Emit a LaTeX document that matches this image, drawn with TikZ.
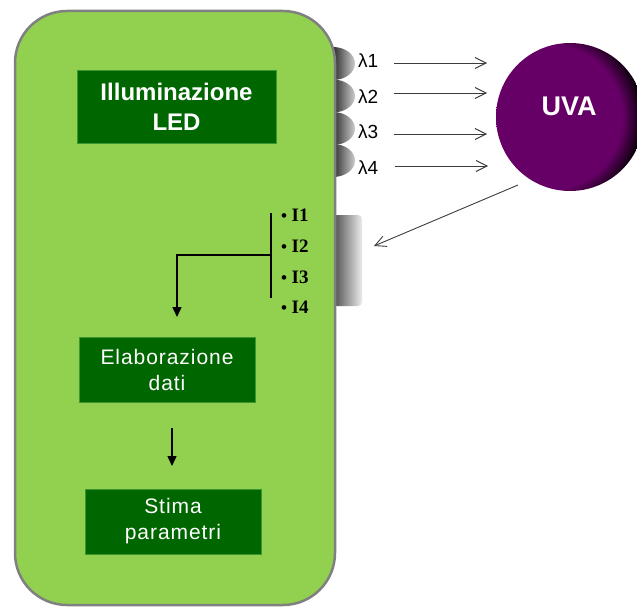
\documentclass[tikz,border=0pt]{standalone}
\usepackage{fontspec}
\setmainfont{Liberation Sans}
\newfontfamily\serifb{Liberation Serif}
\usetikzlibrary{arrows.meta}
\definecolor{lightgreen}{RGB}{146,208,80}
\definecolor{darkgreen}{RGB}{0,102,0}
\definecolor{gborder}{RGB}{60,150,50}
\definecolor{boxgray}{RGB}{128,128,128}
\definecolor{uvap}{RGB}{102,0,102}
\definecolor{ledd}{RGB}{45,45,45}
\definecolor{ledl}{RGB}{205,205,205}
\definecolor{detl}{RGB}{235,235,235}
\definecolor{arrgray}{RGB}{60,60,60}
\pgfdeclareradialshading{uvashade}{\pgfpoint{0bp}{0bp}}{color(0bp)=(uvap); color(18bp)=(uvap); color(23.5bp)=(black); color(50bp)=(black)}
\begin{document}
\begin{tikzpicture}[x=1pt,y=-1pt,
  gbox/.style={fill=darkgreen, draw=gborder, line width=0.8, text=white, align=center, inner sep=0},
  blk/.style={line width=1.5, -{Triangle[length=10,width=9]}},
  thinarr/.style={draw=arrgray, line width=0.9, -{Straight Barb[length=11,width=11]}},
  lamlab/.style={anchor=west, font=\fontsize{19}{19}\selectfont, inner sep=0},
  ilab/.style={anchor=west, font=\serifb\bfseries\fontsize{19}{19}\selectfont, inner sep=0}]
\useasboundingbox (0,0) rectangle (637,607);
% LEDs
\foreach \y in {63.5,96,128.5,160.5}{
  \shade[left color=ledd, right color=ledl] (333,\y-16.5) arc[start angle=-90, end angle=90, x radius=22, y radius=16.5] -- cycle;
}
% detector
\shade[left color=ledd!85!white, right color=detl, rounded corners=4] (333,215) rectangle (362,306);
% main box
\draw[draw=boxgray, line width=2.5, fill=lightgreen, rounded corners=52] (15,11) rectangle (335,605);
% boxes
\node[gbox, minimum width=199, minimum height=73, font=\bfseries\fontsize{24}{30}\selectfont] (led) at (176.5,106.5) {Illuminazione\\LED};
\node[gbox, minimum width=176, minimum height=65, font=\fontsize{21}{26}\selectfont\addfontfeature{LetterSpace=4.5}] (elab) at (167,369.5) {Elaborazione\\dati};
\node[gbox, minimum width=176, minimum height=65, font=\fontsize{21}{26}\selectfont\addfontfeature{LetterSpace=4.5}] (stima) at (173,521.5) {Stima\\parametri};
% lambda labels
\node[lamlab] (l1) at (358,61) {λ1};
\node[lamlab] (l2) at (358,97) {λ2};
\node[lamlab] (l3) at (358,132) {λ3};
\node[lamlab] (l4) at (358,168) {λ4};
% I labels
\node[ilab] (i1) at (281,215) {{\fontsize{17}{17}\selectfont •}\hspace{4.5pt}I1};
\node[ilab] (i2) at (281,246) {{\fontsize{17}{17}\selectfont •}\hspace{4.5pt}I2};
\node[ilab] (i3) at (281,277) {{\fontsize{17}{17}\selectfont •}\hspace{4.5pt}I3};
\node[ilab] (i4) at (281,307) {{\fontsize{17}{17}\selectfont •}\hspace{4.5pt}I4};
% UVA
\begin{scope}
  \clip (570,117) circle (74);
  \shade[shading=uvashade] (550,117) circle (100);
\end{scope}
\node[circle, minimum size=148, inner sep=0] (uva) at (570,117) {};
\node[text=white, font=\bfseries\fontsize{27}{27}\selectfont, inner sep=0] (uvat) at (569,106) {UVA};
% light arrows
\coordinate (a1s) at (394,63);  \coordinate (a1e) at (487,63);
\coordinate (a2s) at (394,93);  \coordinate (a2e) at (487,93);
\coordinate (a3s) at (394,134); \coordinate (a3e) at (487,134);
\coordinate (a4s) at (395,166); \coordinate (a4e) at (488,166);
\draw[thinarr] (a1s) -- (a1e);
\draw[thinarr] (a2s) -- (a2e);
\draw[thinarr] (a3s) -- (a3e);
\draw[thinarr] (a4s) -- (a4e);
\coordinate (ds) at (518,185); \coordinate (de) at (374,246);
\draw[thinarr] (ds) -- (de);
% bracket
\coordinate (bt) at (271,213); \coordinate (bb) at (271,298);
\coordinate (bm) at (271,255); \coordinate (bc) at (177,255); \coordinate (ba) at (177,317);
\draw[line width=1.5] (bt) -- (bb);
\draw[blk] (bm) -- (bc) -- (ba);
% elab -> stima
\coordinate (es) at (172,428); \coordinate (ee) at (172,466);
\draw[blk] (es) -- (ee);
\end{tikzpicture}
\end{document}
